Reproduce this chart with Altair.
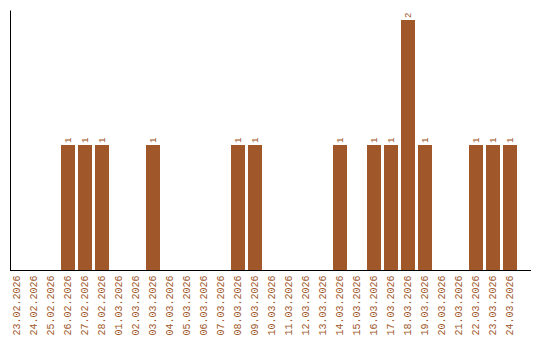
import altair as alt
import pandas as pd

dates = ["23.02.2026", "24.02.2026", "25.02.2026", "26.02.2026", "27.02.2026", "28.02.2026",
         "01.03.2026", "02.03.2026", "03.03.2026", "04.03.2026", "05.03.2026", "06.03.2026",
         "07.03.2026", "08.03.2026", "09.03.2026", "10.03.2026", "11.03.2026", "12.03.2026",
         "13.03.2026", "14.03.2026", "15.03.2026", "16.03.2026", "17.03.2026", "18.03.2026",
         "19.03.2026", "20.03.2026", "21.03.2026", "22.03.2026", "23.03.2026", "24.03.2026"]
counts = [0, 0, 0, 1, 1, 1,
          0, 0, 1, 0, 0, 0,
          0, 1, 1, 0, 0, 0,
          0, 1, 0, 1, 1, 2,
          1, 0, 0, 1, 1, 1]

df = pd.DataFrame({"date": dates, "count": counts})
df["label"] = df["count"].apply(lambda v: str(v) if v > 0 else "")

COLOR = "#A0572A"
FONT = "Liberation Mono"

xscale = alt.Scale(range=[0, 507], paddingInner=3 / 17, paddingOuter=0)
x = alt.X("date:N", sort=dates, title=None, scale=xscale,
          axis=alt.Axis(labelAngle=270, labelFont=FONT, labelFontSize=10,
                        labelColor=COLOR, ticks=False, domain=False, labelPadding=5))
y = alt.Y("count:Q", title=None,
          scale=alt.Scale(domain=[0, 2.08], nice=False),
          axis=alt.Axis(labels=False, ticks=False, grid=False, domainColor="black",
                        domainWidth=1))

base = alt.Chart(df)
bars = base.mark_bar(color=COLOR).encode(x=x, y=y)
text = base.transform_filter("datum.count > 0").mark_text(
    angle=270, align="left", baseline="middle", dx=2, font=FONT, fontSize=9, color=COLOR
).encode(x=alt.X("date:N", sort=dates, scale=xscale), y="count:Q", text="label:N")

axis_line = alt.Chart(df).mark_rule(color="black", strokeWidth=1).encode(
    x=alt.value(0), x2=alt.value(520.5), y=alt.value(260.5))

chart = (bars + text + axis_line).properties(
    width=520, height=260,
    autosize=alt.AutoSizeParams(type="none"),
    padding={"left": 10, "top": 10, "right": 10, "bottom": 70},
).configure_view(stroke=None)

chart.save("out.html", embed_options={"renderer": "svg", "actions": False})
